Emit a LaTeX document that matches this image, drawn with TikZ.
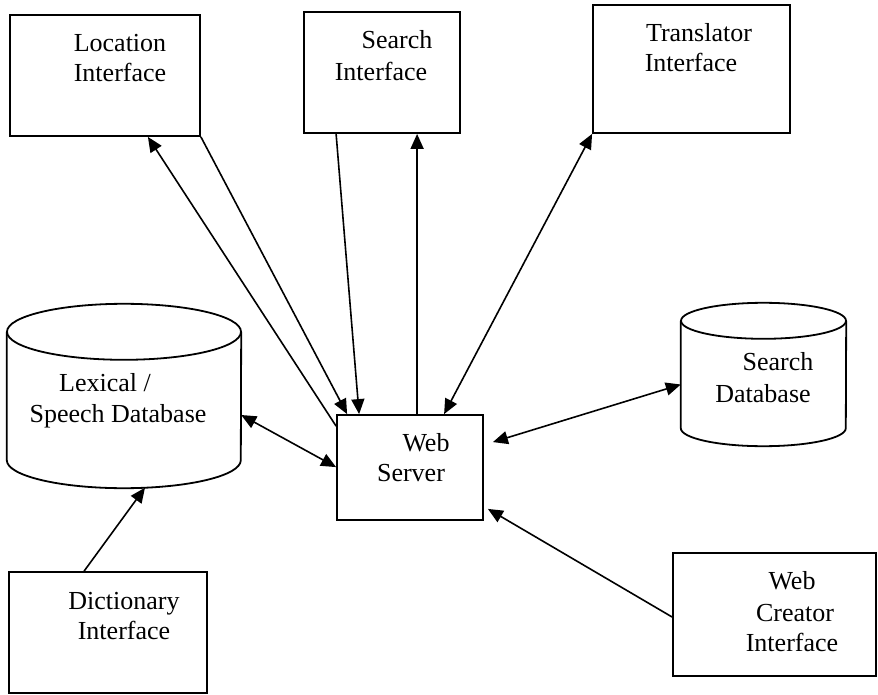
\documentclass[tikz,border=0pt]{standalone}
\usepackage{fontspec}
\setmainfont{Liberation Serif}
\usetikzlibrary{arrows.meta,calc}
\tikzset{
  box/.style={draw, line width=1.8pt, rectangle, inner sep=0pt},
  body/.style={inner sep=0pt, rectangle},
  lbl/.style={inner sep=0pt, anchor=base, font=\fontsize{26pt}{30pt}\selectfont},
  conn/.style={line width=1.6pt, -{Triangle[length=15pt,width=13pt]}},
  biconn/.style={line width=1.6pt, {Triangle[length=15pt,width=13pt]}-{Triangle[length=15pt,width=13pt]}},
  cyl/.style={line width=1.8pt}
}
\begin{document}
\begin{tikzpicture}[x=1pt,y=-1pt]
\useasboundingbox (0,0) rectangle (878,695);

% interface boxes
\node[box, minimum width=190pt, minimum height=121pt] (loc) at (105,75.5) {};
\node[lbl] (loc1) at (120,52) {Location};
\node[lbl] (loc2) at (120,82) {Interface};

\node[box, minimum width=156pt, minimum height=121pt] (srch) at (382,72.5) {};
\node[lbl] (srch1) at (397,49) {Search};
\node[lbl] (srch2) at (381,81) {Interface};

\node[box, minimum width=197pt, minimum height=128pt] (trans) at (691.5,69) {};
\node[lbl] (trans1) at (699,42) {Translator};
\node[lbl] (trans2) at (691,72) {Interface};

\node[box, minimum width=146pt, minimum height=105pt] (ws) at (410,467.5) {};
\node[lbl] (ws1) at (426,451) {Web};
\node[lbl] (ws2) at (411,481) {Server};

\node[box, minimum width=198pt, minimum height=121pt] (dict) at (108,632.5) {};
\node[lbl] (dict1) at (124,609) {Dictionary};
\node[lbl] (dict2) at (124,639) {Interface};

\node[box, minimum width=203pt, minimum height=123pt] (wc) at (774.5,614.5) {};
\node[lbl] (wc1) at (792,589) {Web};
\node[lbl] (wc2) at (795,621) {Creator};
\node[lbl] (wc3) at (792,651) {Interface};

% database cylinders
\node[body, minimum width=234pt, minimum height=128pt] (lex) at (124,396) {};
\draw[cyl] (lex.north west) -- (lex.south west)
  arc[start angle=180, end angle=360, x radius=117pt, y radius=28pt]
  -- (lex.north east);
\draw[cyl] (lex.north) ellipse [x radius=117pt, y radius=28pt];
\node[lbl] (lex1) at (105,391) {Lexical /};
\node[lbl] (lex2) at (118,422) {Speech Database};

\node[body, minimum width=165pt, minimum height=107pt] (sdb) at (763.5,374.5) {};
\draw[cyl] (sdb.north west) -- (sdb.south west)
  arc[start angle=180, end angle=360, x radius=82.5pt, y radius=18pt]
  -- (sdb.north east);
\draw[cyl] (sdb.north) ellipse [x radius=82.5pt, y radius=18pt];
\node[lbl] (sdb1) at (778,370) {Search};
\node[lbl] (sdb2) at (763,402) {Database};

% connectors
\draw[conn] ([yshift=-12pt]ws.north west) -- ([xshift=-53pt]loc.south east);
\draw[conn] (loc.south east) -- ([xshift=11pt]ws.north west);
\draw[conn] ([xshift=33pt]srch.south west) -- ([xshift=23pt]ws.north west);
\draw[conn] ([xshift=81pt]ws.north west) -- ([xshift=114pt]srch.south west);
\draw[biconn] ([xshift=108pt]ws.north west) -- (trans.south west);
\draw[biconn] ([yshift=-19pt]lex.east) -- ([yshift=-53pt]ws.north west);
\draw[biconn] ([xshift=9pt,yshift=-28pt]ws.north east) -- ([yshift=-10pt]sdb.west);
\draw[conn] ([xshift=76pt]dict.north west) -- ([xshift=21pt,yshift=-27.5pt]lex.south);
\draw[conn] ([yshift=-2.5pt]wc.west) -- ([xshift=4pt,yshift=12pt]ws.south east);
\end{tikzpicture}
\end{document}
